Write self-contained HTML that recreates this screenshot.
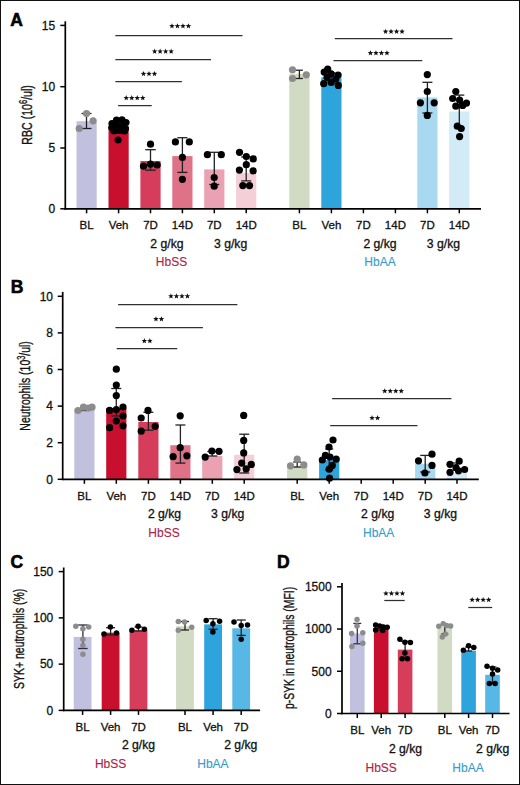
<!DOCTYPE html>
<html><head><meta charset="utf-8"><title>Figure</title>
<style>
html,body{margin:0;padding:0;background:#fff;}
body{width:520px;height:785px;overflow:hidden;font-family:"Liberation Sans", sans-serif;}
.fig{position:relative;width:520px;height:785px;background:#fff;}
svg{position:absolute;left:0;top:0;}
svg text{font-family:"Liberation Sans", sans-serif;}
</style></head>
<body><div class="fig"><svg width="520" height="785" viewBox="0 0 520 785">
<text x="10.3" y="25.6" font-size="17.5" font-weight="bold" fill="#000" stroke="#000" stroke-width="0.6">A</text>
<rect x="76.5" y="121.2" width="20.2" height="87.6" fill="#c1c0de"/>
<rect x="108.5" y="127.3" width="20.2" height="81.5" fill="#c8102e"/>
<rect x="140.4" y="161" width="20.2" height="47.8" fill="#d53d5b"/>
<rect x="172.3" y="156.1" width="20.2" height="52.7" fill="#df7287"/>
<rect x="204.2" y="169.4" width="20.2" height="39.4" fill="#eaa2b3"/>
<rect x="236.1" y="173" width="20.2" height="35.8" fill="#f4cfd7"/>
<rect x="289.3" y="74" width="20.2" height="134.8" fill="#d1dac2"/>
<rect x="321.3" y="77.3" width="20.2" height="131.5" fill="#2ea4dc"/>
<rect x="417.3" y="97.5" width="20.2" height="111.3" fill="#a9d8f1"/>
<rect x="449.2" y="111.5" width="20.2" height="97.3" fill="#d3eaf7"/>
<line x1="86.5" y1="113.5" x2="86.5" y2="128.5" stroke="#222" stroke-width="1.3"/>
<line x1="81.5" y1="113.5" x2="91.5" y2="113.5" stroke="#222" stroke-width="1.3"/>
<line x1="81.5" y1="128.5" x2="91.5" y2="128.5" stroke="#222" stroke-width="1.3"/>
<line x1="118.6" y1="121.5" x2="118.6" y2="133" stroke="#222" stroke-width="1.3"/>
<line x1="113.6" y1="121.5" x2="123.6" y2="121.5" stroke="#222" stroke-width="1.3"/>
<line x1="113.6" y1="133" x2="123.6" y2="133" stroke="#222" stroke-width="1.3"/>
<line x1="150.5" y1="149.7" x2="150.5" y2="170.2" stroke="#222" stroke-width="1.3"/>
<line x1="145.25" y1="149.7" x2="155.75" y2="149.7" stroke="#222" stroke-width="1.3"/>
<line x1="145.25" y1="170.2" x2="155.75" y2="170.2" stroke="#222" stroke-width="1.3"/>
<line x1="182.4" y1="137.7" x2="182.4" y2="172.4" stroke="#222" stroke-width="1.3"/>
<line x1="177.4" y1="137.7" x2="187.4" y2="137.7" stroke="#222" stroke-width="1.3"/>
<line x1="177.4" y1="172.4" x2="187.4" y2="172.4" stroke="#222" stroke-width="1.3"/>
<line x1="214.3" y1="152.3" x2="214.3" y2="184.5" stroke="#222" stroke-width="1.3"/>
<line x1="209.3" y1="152.3" x2="219.3" y2="152.3" stroke="#222" stroke-width="1.3"/>
<line x1="209.3" y1="184.5" x2="219.3" y2="184.5" stroke="#222" stroke-width="1.3"/>
<line x1="246.2" y1="157" x2="246.2" y2="180.9" stroke="#222" stroke-width="1.3"/>
<line x1="241.2" y1="157" x2="251.2" y2="157" stroke="#222" stroke-width="1.3"/>
<line x1="241.2" y1="180.9" x2="251.2" y2="180.9" stroke="#222" stroke-width="1.3"/>
<line x1="299.4" y1="70.2" x2="299.4" y2="78.5" stroke="#222" stroke-width="1.3"/>
<line x1="295.9" y1="70.2" x2="302.9" y2="70.2" stroke="#222" stroke-width="1.3"/>
<line x1="295.9" y1="78.5" x2="302.9" y2="78.5" stroke="#222" stroke-width="1.3"/>
<line x1="331.4" y1="73" x2="331.4" y2="82" stroke="#222" stroke-width="1.3"/>
<line x1="327.4" y1="73" x2="335.4" y2="73" stroke="#222" stroke-width="1.3"/>
<line x1="327.4" y1="82" x2="335.4" y2="82" stroke="#222" stroke-width="1.3"/>
<line x1="427.4" y1="82.3" x2="427.4" y2="113" stroke="#222" stroke-width="1.3"/>
<line x1="422.4" y1="82.3" x2="432.4" y2="82.3" stroke="#222" stroke-width="1.3"/>
<line x1="422.4" y1="113" x2="432.4" y2="113" stroke="#222" stroke-width="1.3"/>
<line x1="459.3" y1="95.1" x2="459.3" y2="128" stroke="#222" stroke-width="1.3"/>
<line x1="454.3" y1="95.1" x2="464.3" y2="95.1" stroke="#222" stroke-width="1.3"/>
<line x1="454.3" y1="128" x2="464.3" y2="128" stroke="#222" stroke-width="1.3"/>
<circle cx="86.5" cy="113.5" r="3.6" fill="#8c8c8c"/>
<circle cx="93.1" cy="120.8" r="3.6" fill="#8c8c8c"/>
<circle cx="79.2" cy="128.5" r="3.6" fill="#8c8c8c"/>
<circle cx="112" cy="123.5" r="3.6" fill="#000"/>
<circle cx="116.5" cy="120.2" r="3.6" fill="#000"/>
<circle cx="122" cy="119.8" r="3.6" fill="#000"/>
<circle cx="126" cy="122.5" r="3.6" fill="#000"/>
<circle cx="111.8" cy="127.5" r="3.6" fill="#000"/>
<circle cx="117" cy="125" r="3.6" fill="#000"/>
<circle cx="122.5" cy="126" r="3.6" fill="#000"/>
<circle cx="125.5" cy="128.5" r="3.6" fill="#000"/>
<circle cx="114" cy="131" r="3.6" fill="#000"/>
<circle cx="119.5" cy="130.5" r="3.6" fill="#000"/>
<circle cx="124.5" cy="131" r="3.6" fill="#000"/>
<circle cx="118.1" cy="140" r="3.6" fill="#000"/>
<circle cx="150.5" cy="144.2" r="3.6" fill="#000"/>
<circle cx="143.5" cy="166.2" r="3.6" fill="#000"/>
<circle cx="150.5" cy="164.1" r="3.6" fill="#000"/>
<circle cx="157.2" cy="165" r="3.6" fill="#000"/>
<circle cx="175.4" cy="141.9" r="3.6" fill="#000"/>
<circle cx="189.3" cy="141.9" r="3.6" fill="#000"/>
<circle cx="182.4" cy="157.4" r="3.6" fill="#000"/>
<circle cx="182.4" cy="179.3" r="3.6" fill="#000"/>
<circle cx="207.4" cy="154.7" r="3.6" fill="#000"/>
<circle cx="221.3" cy="154.7" r="3.6" fill="#000"/>
<circle cx="214.2" cy="177.5" r="3.6" fill="#000"/>
<circle cx="214.2" cy="186.2" r="3.6" fill="#000"/>
<circle cx="239.5" cy="152.3" r="3.6" fill="#000"/>
<circle cx="246.3" cy="156.5" r="3.6" fill="#000"/>
<circle cx="253.2" cy="158.9" r="3.6" fill="#000"/>
<circle cx="246.3" cy="164.7" r="3.6" fill="#000"/>
<circle cx="239.4" cy="170.1" r="3.6" fill="#000"/>
<circle cx="253.1" cy="170.8" r="3.6" fill="#000"/>
<circle cx="242.8" cy="185.6" r="3.6" fill="#000"/>
<circle cx="249.5" cy="185.6" r="3.6" fill="#000"/>
<circle cx="292.5" cy="69.8" r="3.6" fill="#8c8c8c"/>
<circle cx="292.5" cy="78.5" r="3.6" fill="#8c8c8c"/>
<circle cx="306.3" cy="74.8" r="3.6" fill="#8c8c8c"/>
<circle cx="327.7" cy="69.2" r="3.6" fill="#000"/>
<circle cx="324.2" cy="72.1" r="3.6" fill="#000"/>
<circle cx="331.2" cy="73.8" r="3.6" fill="#000"/>
<circle cx="338.1" cy="75" r="3.6" fill="#000"/>
<circle cx="327.1" cy="77.3" r="3.6" fill="#000"/>
<circle cx="335.8" cy="79" r="3.6" fill="#000"/>
<circle cx="323.7" cy="83.7" r="3.6" fill="#000"/>
<circle cx="331.2" cy="82.5" r="3.6" fill="#000"/>
<circle cx="338.3" cy="85.4" r="3.6" fill="#000"/>
<circle cx="427.3" cy="74.6" r="3.6" fill="#000"/>
<circle cx="427.3" cy="91.5" r="3.6" fill="#000"/>
<circle cx="420.4" cy="102.8" r="3.6" fill="#000"/>
<circle cx="434.2" cy="102.8" r="3.6" fill="#000"/>
<circle cx="427.3" cy="115.4" r="3.6" fill="#000"/>
<circle cx="455.8" cy="91.5" r="3.6" fill="#000"/>
<circle cx="452.7" cy="98.5" r="3.6" fill="#000"/>
<circle cx="459.6" cy="100" r="3.6" fill="#000"/>
<circle cx="466.5" cy="103.1" r="3.6" fill="#000"/>
<circle cx="455.8" cy="106.2" r="3.6" fill="#000"/>
<circle cx="462.7" cy="105.4" r="3.6" fill="#000"/>
<circle cx="457.3" cy="126.2" r="3.6" fill="#000"/>
<circle cx="461.2" cy="128.5" r="3.6" fill="#000"/>
<circle cx="459.6" cy="136.6" r="3.6" fill="#000"/>
<line x1="65.3" y1="21.3" x2="65.3" y2="209.6" stroke="#000" stroke-width="1.7"/>
<line x1="60.3" y1="208.8" x2="65.3" y2="208.8" stroke="#000" stroke-width="1.5"/>
<text x="55.2" y="213.1" font-size="12" text-anchor="end" fill="#111" stroke="#111" stroke-width="0.3" font-weight="normal" >0</text>
<line x1="60.3" y1="148" x2="65.3" y2="148" stroke="#000" stroke-width="1.5"/>
<text x="55.2" y="152.3" font-size="12" text-anchor="end" fill="#111" stroke="#111" stroke-width="0.3" font-weight="normal" >5</text>
<line x1="60.3" y1="86.7" x2="65.3" y2="86.7" stroke="#000" stroke-width="1.5"/>
<text x="55.2" y="91" font-size="12" text-anchor="end" fill="#111" stroke="#111" stroke-width="0.3" font-weight="normal" >10</text>
<line x1="60.3" y1="25.4" x2="65.3" y2="25.4" stroke="#000" stroke-width="1.5"/>
<text x="55.2" y="29.7" font-size="12" text-anchor="end" fill="#111" stroke="#111" stroke-width="0.3" font-weight="normal" >15</text>
<line x1="64.45" y1="208.8" x2="481" y2="208.8" stroke="#000" stroke-width="1.7"/>
<line x1="86.6" y1="208.8" x2="86.6" y2="213.3" stroke="#000" stroke-width="1.5"/>
<line x1="118.6" y1="208.8" x2="118.6" y2="213.3" stroke="#000" stroke-width="1.5"/>
<line x1="150.5" y1="208.8" x2="150.5" y2="213.3" stroke="#000" stroke-width="1.5"/>
<line x1="182.4" y1="208.8" x2="182.4" y2="213.3" stroke="#000" stroke-width="1.5"/>
<line x1="214.3" y1="208.8" x2="214.3" y2="213.3" stroke="#000" stroke-width="1.5"/>
<line x1="246.2" y1="208.8" x2="246.2" y2="213.3" stroke="#000" stroke-width="1.5"/>
<line x1="299.4" y1="208.8" x2="299.4" y2="213.3" stroke="#000" stroke-width="1.5"/>
<line x1="331.4" y1="208.8" x2="331.4" y2="213.3" stroke="#000" stroke-width="1.5"/>
<line x1="363.4" y1="208.8" x2="363.4" y2="213.3" stroke="#000" stroke-width="1.5"/>
<line x1="395.4" y1="208.8" x2="395.4" y2="213.3" stroke="#000" stroke-width="1.5"/>
<line x1="427.4" y1="208.8" x2="427.4" y2="213.3" stroke="#000" stroke-width="1.5"/>
<line x1="459.3" y1="208.8" x2="459.3" y2="213.3" stroke="#000" stroke-width="1.5"/>
<text transform="translate(32.4,114.9) rotate(-90)" x="0" y="0" font-size="14" text-anchor="middle" fill="#111" stroke="#111" stroke-width="0.35" textLength="59.5" lengthAdjust="spacingAndGlyphs">RBC (10<tspan font-size="10" dy="-5">6</tspan><tspan dy="5">/ul)</tspan></text>
<line x1="115.4" y1="35.5" x2="242.5" y2="35.5" stroke="#303030" stroke-width="1.25"/>
<polygon points="171.95,23.2 172.68,25.09 174.71,25.2 173.14,26.49 173.65,28.45 171.95,27.35 170.25,28.45 170.76,26.49 169.19,25.2 171.22,25.09" fill="#111"/>
<polygon points="177.45,23.2 178.18,25.09 180.21,25.2 178.64,26.49 179.15,28.45 177.45,27.35 175.75,28.45 176.26,26.49 174.69,25.2 176.72,25.09" fill="#111"/>
<polygon points="182.95,23.2 183.68,25.09 185.71,25.2 184.14,26.49 184.65,28.45 182.95,27.35 181.25,28.45 181.76,26.49 180.19,25.2 182.22,25.09" fill="#111"/>
<polygon points="188.45,23.2 189.18,25.09 191.21,25.2 189.64,26.49 190.15,28.45 188.45,27.35 186.75,28.45 187.26,26.49 185.69,25.2 187.72,25.09" fill="#111"/>
<line x1="115.4" y1="59.5" x2="211" y2="59.5" stroke="#303030" stroke-width="1.25"/>
<polygon points="154.65,48.5 155.38,50.39 157.41,50.5 155.84,51.79 156.35,53.75 154.65,52.65 152.95,53.75 153.46,51.79 151.89,50.5 153.92,50.39" fill="#111"/>
<polygon points="160.15,48.5 160.88,50.39 162.91,50.5 161.34,51.79 161.85,53.75 160.15,52.65 158.45,53.75 158.96,51.79 157.39,50.5 159.42,50.39" fill="#111"/>
<polygon points="165.65,48.5 166.38,50.39 168.41,50.5 166.84,51.79 167.35,53.75 165.65,52.65 163.95,53.75 164.46,51.79 162.89,50.5 164.92,50.39" fill="#111"/>
<polygon points="171.15,48.5 171.88,50.39 173.91,50.5 172.34,51.79 172.85,53.75 171.15,52.65 169.45,53.75 169.96,51.79 168.39,50.5 170.42,50.39" fill="#111"/>
<line x1="115.4" y1="81.5" x2="181.9" y2="81.5" stroke="#303030" stroke-width="1.25"/>
<polygon points="143.5,70.9 144.23,72.79 146.26,72.9 144.69,74.19 145.2,76.15 143.5,75.05 141.8,76.15 142.31,74.19 140.74,72.9 142.77,72.79" fill="#111"/>
<polygon points="149,70.9 149.73,72.79 151.76,72.9 150.19,74.19 150.7,76.15 149,75.05 147.3,76.15 147.81,74.19 146.24,72.9 148.27,72.79" fill="#111"/>
<polygon points="154.5,70.9 155.23,72.79 157.26,72.9 155.69,74.19 156.2,76.15 154.5,75.05 152.8,76.15 153.31,74.19 151.74,72.9 153.77,72.79" fill="#111"/>
<line x1="118.1" y1="105.5" x2="151.7" y2="105.5" stroke="#303030" stroke-width="1.25"/>
<polygon points="126.25,95.1 126.98,96.99 129.01,97.1 127.44,98.39 127.95,100.35 126.25,99.25 124.55,100.35 125.06,98.39 123.49,97.1 125.52,96.99" fill="#111"/>
<polygon points="131.75,95.1 132.48,96.99 134.51,97.1 132.94,98.39 133.45,100.35 131.75,99.25 130.05,100.35 130.56,98.39 128.99,97.1 131.02,96.99" fill="#111"/>
<polygon points="137.25,95.1 137.98,96.99 140.01,97.1 138.44,98.39 138.95,100.35 137.25,99.25 135.55,100.35 136.06,98.39 134.49,97.1 136.52,96.99" fill="#111"/>
<polygon points="142.75,95.1 143.48,96.99 145.51,97.1 143.94,98.39 144.45,100.35 142.75,99.25 141.05,100.35 141.56,98.39 139.99,97.1 142.02,96.99" fill="#111"/>
<line x1="334.8" y1="38.5" x2="452.5" y2="38.5" stroke="#303030" stroke-width="1.25"/>
<polygon points="385.55,28.7 386.28,30.59 388.31,30.7 386.74,31.99 387.25,33.95 385.55,32.85 383.85,33.95 384.36,31.99 382.79,30.7 384.82,30.59" fill="#111"/>
<polygon points="391.05,28.7 391.78,30.59 393.81,30.7 392.24,31.99 392.75,33.95 391.05,32.85 389.35,33.95 389.86,31.99 388.29,30.7 390.32,30.59" fill="#111"/>
<polygon points="396.55,28.7 397.28,30.59 399.31,30.7 397.74,31.99 398.25,33.95 396.55,32.85 394.85,33.95 395.36,31.99 393.79,30.7 395.82,30.59" fill="#111"/>
<polygon points="402.05,28.7 402.78,30.59 404.81,30.7 403.24,31.99 403.75,33.95 402.05,32.85 400.35,33.95 400.86,31.99 399.29,30.7 401.32,30.59" fill="#111"/>
<line x1="333.5" y1="60.5" x2="422.3" y2="60.5" stroke="#303030" stroke-width="1.25"/>
<polygon points="370.45,50.2 371.18,52.09 373.21,52.2 371.64,53.49 372.15,55.45 370.45,54.35 368.75,55.45 369.26,53.49 367.69,52.2 369.72,52.09" fill="#111"/>
<polygon points="375.95,50.2 376.68,52.09 378.71,52.2 377.14,53.49 377.65,55.45 375.95,54.35 374.25,55.45 374.76,53.49 373.19,52.2 375.22,52.09" fill="#111"/>
<polygon points="381.45,50.2 382.18,52.09 384.21,52.2 382.64,53.49 383.15,55.45 381.45,54.35 379.75,55.45 380.26,53.49 378.69,52.2 380.72,52.09" fill="#111"/>
<polygon points="386.95,50.2 387.68,52.09 389.71,52.2 388.14,53.49 388.65,55.45 386.95,54.35 385.25,55.45 385.76,53.49 384.19,52.2 386.22,52.09" fill="#111"/>
<text x="86.6" y="228.7" font-size="11.5" text-anchor="middle" fill="#111" stroke="#111" stroke-width="0.3" font-weight="normal" >BL</text>
<text x="118.6" y="228.7" font-size="11.5" text-anchor="middle" fill="#111" stroke="#111" stroke-width="0.3" font-weight="normal" >Veh</text>
<text x="150.5" y="228.7" font-size="11.5" text-anchor="middle" fill="#111" stroke="#111" stroke-width="0.3" font-weight="normal" >7D</text>
<text x="182.4" y="228.7" font-size="11.5" text-anchor="middle" fill="#111" stroke="#111" stroke-width="0.3" font-weight="normal" >14D</text>
<text x="214.3" y="228.7" font-size="11.5" text-anchor="middle" fill="#111" stroke="#111" stroke-width="0.3" font-weight="normal" >7D</text>
<text x="246.2" y="228.7" font-size="11.5" text-anchor="middle" fill="#111" stroke="#111" stroke-width="0.3" font-weight="normal" >14D</text>
<text x="299.4" y="228.7" font-size="11.5" text-anchor="middle" fill="#111" stroke="#111" stroke-width="0.3" font-weight="normal" >BL</text>
<text x="331.4" y="228.7" font-size="11.5" text-anchor="middle" fill="#111" stroke="#111" stroke-width="0.3" font-weight="normal" >Veh</text>
<text x="363.4" y="228.7" font-size="11.5" text-anchor="middle" fill="#111" stroke="#111" stroke-width="0.3" font-weight="normal" >7D</text>
<text x="395.4" y="228.7" font-size="11.5" text-anchor="middle" fill="#111" stroke="#111" stroke-width="0.3" font-weight="normal" >14D</text>
<text x="427.4" y="228.7" font-size="11.5" text-anchor="middle" fill="#111" stroke="#111" stroke-width="0.3" font-weight="normal" >7D</text>
<text x="459.3" y="228.7" font-size="11.5" text-anchor="middle" fill="#111" stroke="#111" stroke-width="0.3" font-weight="normal" >14D</text>
<text x="166.9" y="247.5" font-size="12.2" text-anchor="middle" fill="#111" stroke="#111" stroke-width="0.3" font-weight="normal" >2 g/kg</text>
<text x="230.6" y="247.5" font-size="12.2" text-anchor="middle" fill="#111" stroke="#111" stroke-width="0.3" font-weight="normal" >3 g/kg</text>
<text x="171.5" y="266.2" font-size="12" text-anchor="middle" fill="#ab2446" stroke="#ab2446" stroke-width="0.12" font-weight="normal" >HbSS</text>
<text x="380" y="247.5" font-size="12.2" text-anchor="middle" fill="#111" stroke="#111" stroke-width="0.3" font-weight="normal" >2 g/kg</text>
<text x="443.4" y="247.5" font-size="12.2" text-anchor="middle" fill="#111" stroke="#111" stroke-width="0.3" font-weight="normal" >3 g/kg</text>
<text x="380" y="266.2" font-size="12" text-anchor="middle" fill="#359dcc" stroke="#359dcc" stroke-width="0.12" font-weight="normal" >HbAA</text>
<text x="10.8" y="292.7" font-size="17.5" font-weight="bold" fill="#000" stroke="#000" stroke-width="0.6">B</text>
<rect x="74.3" y="409" width="20.2" height="70.3" fill="#c1c0de"/>
<rect x="106.2" y="408" width="20.2" height="71.3" fill="#c8102e"/>
<rect x="138.3" y="422" width="20.2" height="57.3" fill="#d53d5b"/>
<rect x="170.3" y="445.2" width="20.2" height="34.1" fill="#df7287"/>
<rect x="202.2" y="455.8" width="20.2" height="23.5" fill="#eaa2b3"/>
<rect x="234.1" y="454.8" width="20.2" height="24.5" fill="#f4cfd7"/>
<rect x="287.1" y="466.2" width="20.2" height="13.1" fill="#d1dac2"/>
<rect x="319.1" y="460" width="20.2" height="19.3" fill="#2ea4dc"/>
<rect x="415.1" y="463.8" width="20.2" height="15.5" fill="#a9d8f1"/>
<rect x="446.9" y="473" width="20.2" height="6.3" fill="#d3eaf7"/>
<line x1="84.4" y1="406.5" x2="84.4" y2="410.5" stroke="#222" stroke-width="1.3"/>
<line x1="80.4" y1="406.5" x2="88.4" y2="406.5" stroke="#222" stroke-width="1.3"/>
<line x1="80.4" y1="410.5" x2="88.4" y2="410.5" stroke="#222" stroke-width="1.3"/>
<line x1="116.3" y1="388.5" x2="116.3" y2="416" stroke="#222" stroke-width="1.3"/>
<line x1="111.3" y1="388.5" x2="121.3" y2="388.5" stroke="#222" stroke-width="1.3"/>
<line x1="111.3" y1="416" x2="121.3" y2="416" stroke="#222" stroke-width="1.3"/>
<line x1="148.4" y1="412.3" x2="148.4" y2="430.2" stroke="#222" stroke-width="1.3"/>
<line x1="143.4" y1="412.3" x2="153.4" y2="412.3" stroke="#222" stroke-width="1.3"/>
<line x1="143.4" y1="430.2" x2="153.4" y2="430.2" stroke="#222" stroke-width="1.3"/>
<line x1="180.4" y1="425" x2="180.4" y2="463.1" stroke="#222" stroke-width="1.3"/>
<line x1="175.4" y1="425" x2="185.4" y2="425" stroke="#222" stroke-width="1.3"/>
<line x1="175.4" y1="463.1" x2="185.4" y2="463.1" stroke="#222" stroke-width="1.3"/>
<line x1="212.3" y1="451.5" x2="212.3" y2="456" stroke="#222" stroke-width="1.3"/>
<line x1="207.3" y1="451.5" x2="217.3" y2="451.5" stroke="#222" stroke-width="1.3"/>
<line x1="207.3" y1="456" x2="217.3" y2="456" stroke="#222" stroke-width="1.3"/>
<line x1="244.2" y1="434.2" x2="244.2" y2="473" stroke="#222" stroke-width="1.3"/>
<line x1="239.2" y1="434.2" x2="249.2" y2="434.2" stroke="#222" stroke-width="1.3"/>
<line x1="239.2" y1="473" x2="249.2" y2="473" stroke="#222" stroke-width="1.3"/>
<line x1="297.2" y1="462" x2="297.2" y2="467" stroke="#222" stroke-width="1.3"/>
<line x1="293.2" y1="462" x2="301.2" y2="462" stroke="#222" stroke-width="1.3"/>
<line x1="293.2" y1="467" x2="301.2" y2="467" stroke="#222" stroke-width="1.3"/>
<line x1="329.2" y1="449" x2="329.2" y2="470" stroke="#222" stroke-width="1.3"/>
<line x1="325.2" y1="449" x2="333.2" y2="449" stroke="#222" stroke-width="1.3"/>
<line x1="325.2" y1="470" x2="333.2" y2="470" stroke="#222" stroke-width="1.3"/>
<line x1="425.2" y1="455.4" x2="425.2" y2="472" stroke="#222" stroke-width="1.3"/>
<line x1="420.2" y1="455.4" x2="430.2" y2="455.4" stroke="#222" stroke-width="1.3"/>
<line x1="420.2" y1="472" x2="430.2" y2="472" stroke="#222" stroke-width="1.3"/>
<line x1="457" y1="463" x2="457" y2="470" stroke="#222" stroke-width="1.3"/>
<line x1="453" y1="463" x2="461" y2="463" stroke="#222" stroke-width="1.3"/>
<line x1="453" y1="470" x2="461" y2="470" stroke="#222" stroke-width="1.3"/>
<circle cx="78" cy="410.5" r="3.6" fill="#8c8c8c"/>
<circle cx="83.5" cy="407.2" r="3.6" fill="#8c8c8c"/>
<circle cx="88.5" cy="408" r="3.6" fill="#8c8c8c"/>
<circle cx="92" cy="407.2" r="3.6" fill="#8c8c8c"/>
<circle cx="116.3" cy="369.2" r="3.6" fill="#000"/>
<circle cx="116.3" cy="385" r="3.6" fill="#000"/>
<circle cx="116.3" cy="395.6" r="3.6" fill="#000"/>
<circle cx="109.6" cy="410.4" r="3.6" fill="#000"/>
<circle cx="116.3" cy="409.6" r="3.6" fill="#000"/>
<circle cx="123" cy="407" r="3.6" fill="#000"/>
<circle cx="123" cy="416" r="3.6" fill="#000"/>
<circle cx="116.3" cy="421" r="3.6" fill="#000"/>
<circle cx="109.6" cy="427.7" r="3.6" fill="#000"/>
<circle cx="123" cy="425.8" r="3.6" fill="#000"/>
<circle cx="148" cy="410.4" r="3.6" fill="#000"/>
<circle cx="141.2" cy="418" r="3.6" fill="#000"/>
<circle cx="155.2" cy="426.3" r="3.6" fill="#000"/>
<circle cx="141.2" cy="431.2" r="3.6" fill="#000"/>
<circle cx="180.2" cy="415.8" r="3.6" fill="#000"/>
<circle cx="180.2" cy="447.7" r="3.6" fill="#000"/>
<circle cx="173.1" cy="456.7" r="3.6" fill="#000"/>
<circle cx="186.9" cy="455.8" r="3.6" fill="#000"/>
<circle cx="205.2" cy="457.1" r="3.6" fill="#000"/>
<circle cx="211.9" cy="451" r="3.6" fill="#000"/>
<circle cx="219" cy="451.3" r="3.6" fill="#000"/>
<circle cx="243.7" cy="415.4" r="3.6" fill="#000"/>
<circle cx="243.7" cy="440.4" r="3.6" fill="#000"/>
<circle cx="243.7" cy="452.9" r="3.6" fill="#000"/>
<circle cx="241.7" cy="463.1" r="3.6" fill="#000"/>
<circle cx="251.3" cy="464.4" r="3.6" fill="#000"/>
<circle cx="236.9" cy="469.6" r="3.6" fill="#000"/>
<circle cx="246.2" cy="468.8" r="3.6" fill="#000"/>
<circle cx="290.5" cy="465.8" r="3.6" fill="#8c8c8c"/>
<circle cx="297.2" cy="459.2" r="3.6" fill="#8c8c8c"/>
<circle cx="303.8" cy="464.9" r="3.6" fill="#8c8c8c"/>
<circle cx="333" cy="440" r="3.6" fill="#000"/>
<circle cx="329" cy="447" r="3.6" fill="#000"/>
<circle cx="325.4" cy="455.4" r="3.6" fill="#000"/>
<circle cx="322.3" cy="460" r="3.6" fill="#000"/>
<circle cx="330" cy="457" r="3.6" fill="#000"/>
<circle cx="336.2" cy="459.2" r="3.6" fill="#000"/>
<circle cx="332.3" cy="465.4" r="3.6" fill="#000"/>
<circle cx="329.2" cy="469.2" r="3.6" fill="#000"/>
<circle cx="329.5" cy="478.2" r="3.6" fill="#000"/>
<circle cx="418.5" cy="460.8" r="3.6" fill="#000"/>
<circle cx="432" cy="454.2" r="3.6" fill="#000"/>
<circle cx="432" cy="465.4" r="3.6" fill="#000"/>
<circle cx="424.9" cy="473" r="3.6" fill="#000"/>
<circle cx="450" cy="464.3" r="3.6" fill="#000"/>
<circle cx="459.2" cy="461.2" r="3.6" fill="#000"/>
<circle cx="464.6" cy="469.5" r="3.6" fill="#000"/>
<circle cx="450" cy="472.3" r="3.6" fill="#000"/>
<circle cx="458.5" cy="470.8" r="3.6" fill="#000"/>
<circle cx="456" cy="467.7" r="3.6" fill="#000"/>
<line x1="62.7" y1="291.9" x2="62.7" y2="480.1" stroke="#000" stroke-width="1.7"/>
<line x1="57.7" y1="479.3" x2="62.7" y2="479.3" stroke="#000" stroke-width="1.5"/>
<text x="53" y="483.6" font-size="12" text-anchor="end" fill="#111" stroke="#111" stroke-width="0.3" font-weight="normal" >0</text>
<line x1="57.7" y1="442.7" x2="62.7" y2="442.7" stroke="#000" stroke-width="1.5"/>
<text x="53" y="447" font-size="12" text-anchor="end" fill="#111" stroke="#111" stroke-width="0.3" font-weight="normal" >2</text>
<line x1="57.7" y1="406.1" x2="62.7" y2="406.1" stroke="#000" stroke-width="1.5"/>
<text x="53" y="410.4" font-size="12" text-anchor="end" fill="#111" stroke="#111" stroke-width="0.3" font-weight="normal" >4</text>
<line x1="57.7" y1="369.5" x2="62.7" y2="369.5" stroke="#000" stroke-width="1.5"/>
<text x="53" y="373.8" font-size="12" text-anchor="end" fill="#111" stroke="#111" stroke-width="0.3" font-weight="normal" >6</text>
<line x1="57.7" y1="332.9" x2="62.7" y2="332.9" stroke="#000" stroke-width="1.5"/>
<text x="53" y="337.2" font-size="12" text-anchor="end" fill="#111" stroke="#111" stroke-width="0.3" font-weight="normal" >8</text>
<line x1="57.7" y1="296.3" x2="62.7" y2="296.3" stroke="#000" stroke-width="1.5"/>
<text x="53" y="300.6" font-size="12" text-anchor="end" fill="#111" stroke="#111" stroke-width="0.3" font-weight="normal" >10</text>
<line x1="61.85" y1="479.3" x2="478.8" y2="479.3" stroke="#000" stroke-width="1.7"/>
<line x1="84.4" y1="479.3" x2="84.4" y2="483.8" stroke="#000" stroke-width="1.5"/>
<line x1="116.3" y1="479.3" x2="116.3" y2="483.8" stroke="#000" stroke-width="1.5"/>
<line x1="148.4" y1="479.3" x2="148.4" y2="483.8" stroke="#000" stroke-width="1.5"/>
<line x1="180.4" y1="479.3" x2="180.4" y2="483.8" stroke="#000" stroke-width="1.5"/>
<line x1="212.3" y1="479.3" x2="212.3" y2="483.8" stroke="#000" stroke-width="1.5"/>
<line x1="244.2" y1="479.3" x2="244.2" y2="483.8" stroke="#000" stroke-width="1.5"/>
<line x1="297.2" y1="479.3" x2="297.2" y2="483.8" stroke="#000" stroke-width="1.5"/>
<line x1="329.2" y1="479.3" x2="329.2" y2="483.8" stroke="#000" stroke-width="1.5"/>
<line x1="361.2" y1="479.3" x2="361.2" y2="483.8" stroke="#000" stroke-width="1.5"/>
<line x1="393.2" y1="479.3" x2="393.2" y2="483.8" stroke="#000" stroke-width="1.5"/>
<line x1="425.2" y1="479.3" x2="425.2" y2="483.8" stroke="#000" stroke-width="1.5"/>
<line x1="457" y1="479.3" x2="457" y2="483.8" stroke="#000" stroke-width="1.5"/>
<text transform="translate(30.3,385.9) rotate(-90)" x="0" y="0" font-size="14" text-anchor="middle" fill="#111" stroke="#111" stroke-width="0.35" textLength="89.5" lengthAdjust="spacingAndGlyphs">Neutrophils (10<tspan font-size="10" dy="-5">3</tspan><tspan dy="5">/ul)</tspan></text>
<line x1="118.1" y1="304.5" x2="237.4" y2="304.5" stroke="#303030" stroke-width="1.25"/>
<polygon points="170.95,293.3 171.68,295.19 173.71,295.3 172.14,296.59 172.65,298.55 170.95,297.45 169.25,298.55 169.76,296.59 168.19,295.3 170.22,295.19" fill="#111"/>
<polygon points="176.45,293.3 177.18,295.19 179.21,295.3 177.64,296.59 178.15,298.55 176.45,297.45 174.75,298.55 175.26,296.59 173.69,295.3 175.72,295.19" fill="#111"/>
<polygon points="181.95,293.3 182.68,295.19 184.71,295.3 183.14,296.59 183.65,298.55 181.95,297.45 180.25,298.55 180.76,296.59 179.19,295.3 181.22,295.19" fill="#111"/>
<polygon points="187.45,293.3 188.18,295.19 190.21,295.3 188.64,296.59 189.15,298.55 187.45,297.45 185.75,298.55 186.26,296.59 184.69,295.3 186.72,295.19" fill="#111"/>
<line x1="115.4" y1="327.5" x2="202.9" y2="327.5" stroke="#303030" stroke-width="1.25"/>
<polygon points="155.95,316.2 156.68,318.09 158.71,318.2 157.14,319.49 157.65,321.45 155.95,320.35 154.25,321.45 154.76,319.49 153.19,318.2 155.22,318.09" fill="#111"/>
<polygon points="161.45,316.2 162.18,318.09 164.21,318.2 162.64,319.49 163.15,321.45 161.45,320.35 159.75,321.45 160.26,319.49 158.69,318.2 160.72,318.09" fill="#111"/>
<line x1="116.7" y1="348.5" x2="177.3" y2="348.5" stroke="#303030" stroke-width="1.25"/>
<polygon points="144.35,338 145.08,339.89 147.11,340 145.54,341.29 146.05,343.25 144.35,342.15 142.65,343.25 143.16,341.29 141.59,340 143.62,339.89" fill="#111"/>
<polygon points="149.85,338 150.58,339.89 152.61,340 151.04,341.29 151.55,343.25 149.85,342.15 148.15,343.25 148.66,341.29 147.09,340 149.12,339.89" fill="#111"/>
<line x1="332.1" y1="398.5" x2="451.4" y2="398.5" stroke="#303030" stroke-width="1.25"/>
<polygon points="384.75,388.2 385.48,390.09 387.51,390.2 385.94,391.49 386.45,393.45 384.75,392.35 383.05,393.45 383.56,391.49 381.99,390.2 384.02,390.09" fill="#111"/>
<polygon points="390.25,388.2 390.98,390.09 393.01,390.2 391.44,391.49 391.95,393.45 390.25,392.35 388.55,393.45 389.06,391.49 387.49,390.2 389.52,390.09" fill="#111"/>
<polygon points="395.75,388.2 396.48,390.09 398.51,390.2 396.94,391.49 397.45,393.45 395.75,392.35 394.05,393.45 394.56,391.49 392.99,390.2 395.02,390.09" fill="#111"/>
<polygon points="401.25,388.2 401.98,390.09 404.01,390.2 402.44,391.49 402.95,393.45 401.25,392.35 399.55,393.45 400.06,391.49 398.49,390.2 400.52,390.09" fill="#111"/>
<line x1="330.2" y1="425.5" x2="417.5" y2="425.5" stroke="#303030" stroke-width="1.25"/>
<polygon points="372.05,415.1 372.78,416.99 374.81,417.1 373.24,418.39 373.75,420.35 372.05,419.25 370.35,420.35 370.86,418.39 369.29,417.1 371.32,416.99" fill="#111"/>
<polygon points="377.55,415.1 378.28,416.99 380.31,417.1 378.74,418.39 379.25,420.35 377.55,419.25 375.85,420.35 376.36,418.39 374.79,417.1 376.82,416.99" fill="#111"/>
<text x="84.4" y="499.5" font-size="11.5" text-anchor="middle" fill="#111" stroke="#111" stroke-width="0.3" font-weight="normal" >BL</text>
<text x="116.3" y="499.5" font-size="11.5" text-anchor="middle" fill="#111" stroke="#111" stroke-width="0.3" font-weight="normal" >Veh</text>
<text x="148.4" y="499.5" font-size="11.5" text-anchor="middle" fill="#111" stroke="#111" stroke-width="0.3" font-weight="normal" >7D</text>
<text x="180.4" y="499.5" font-size="11.5" text-anchor="middle" fill="#111" stroke="#111" stroke-width="0.3" font-weight="normal" >14D</text>
<text x="212.3" y="499.5" font-size="11.5" text-anchor="middle" fill="#111" stroke="#111" stroke-width="0.3" font-weight="normal" >7D</text>
<text x="244.2" y="499.5" font-size="11.5" text-anchor="middle" fill="#111" stroke="#111" stroke-width="0.3" font-weight="normal" >14D</text>
<text x="297.2" y="499.5" font-size="11.5" text-anchor="middle" fill="#111" stroke="#111" stroke-width="0.3" font-weight="normal" >BL</text>
<text x="329.2" y="499.5" font-size="11.5" text-anchor="middle" fill="#111" stroke="#111" stroke-width="0.3" font-weight="normal" >Veh</text>
<text x="361.2" y="499.5" font-size="11.5" text-anchor="middle" fill="#111" stroke="#111" stroke-width="0.3" font-weight="normal" >7D</text>
<text x="393.2" y="499.5" font-size="11.5" text-anchor="middle" fill="#111" stroke="#111" stroke-width="0.3" font-weight="normal" >14D</text>
<text x="425.2" y="499.5" font-size="11.5" text-anchor="middle" fill="#111" stroke="#111" stroke-width="0.3" font-weight="normal" >7D</text>
<text x="457" y="499.5" font-size="11.5" text-anchor="middle" fill="#111" stroke="#111" stroke-width="0.3" font-weight="normal" >14D</text>
<text x="164.5" y="518.4" font-size="12.2" text-anchor="middle" fill="#111" stroke="#111" stroke-width="0.3" font-weight="normal" >2 g/kg</text>
<text x="227.7" y="518.4" font-size="12.2" text-anchor="middle" fill="#111" stroke="#111" stroke-width="0.3" font-weight="normal" >3 g/kg</text>
<text x="164" y="536.6" font-size="12" text-anchor="middle" fill="#ab2446" stroke="#ab2446" stroke-width="0.12" font-weight="normal" >HbSS</text>
<text x="377.7" y="518.4" font-size="12.2" text-anchor="middle" fill="#111" stroke="#111" stroke-width="0.3" font-weight="normal" >2 g/kg</text>
<text x="440.4" y="518.4" font-size="12.2" text-anchor="middle" fill="#111" stroke="#111" stroke-width="0.3" font-weight="normal" >3 g/kg</text>
<text x="378.7" y="536.6" font-size="12" text-anchor="middle" fill="#359dcc" stroke="#359dcc" stroke-width="0.12" font-weight="normal" >HbAA</text>
<text x="10.5" y="568" font-size="17.5" font-weight="bold" fill="#000" stroke="#000" stroke-width="0.6">C</text>
<rect x="73.7" y="636.9" width="17.8" height="73.5" fill="#c1c0de"/>
<rect x="101.7" y="632.7" width="17.8" height="77.7" fill="#c8102e"/>
<rect x="129.6" y="630.2" width="17.8" height="80.2" fill="#d53d5b"/>
<rect x="176.1" y="626.3" width="17.8" height="84.1" fill="#d1dac2"/>
<rect x="204.2" y="624.4" width="17.8" height="86" fill="#2ea4dc"/>
<rect x="232.3" y="628.3" width="17.8" height="82.1" fill="#57b8e6"/>
<line x1="82.9" y1="625" x2="82.9" y2="648.5" stroke="#2a2a48" stroke-width="1.3"/>
<line x1="78.15" y1="625" x2="87.65" y2="625" stroke="#2a2a48" stroke-width="1.3"/>
<line x1="78.15" y1="648.5" x2="87.65" y2="648.5" stroke="#2a2a48" stroke-width="1.3"/>
<line x1="110.6" y1="627.7" x2="110.6" y2="635" stroke="#222" stroke-width="1.3"/>
<line x1="106.1" y1="627.7" x2="115.1" y2="627.7" stroke="#222" stroke-width="1.3"/>
<line x1="106.1" y1="635" x2="115.1" y2="635" stroke="#222" stroke-width="1.3"/>
<line x1="138.5" y1="627" x2="138.5" y2="631" stroke="#222" stroke-width="1.3"/>
<line x1="134.5" y1="627" x2="142.5" y2="627" stroke="#222" stroke-width="1.3"/>
<line x1="134.5" y1="631" x2="142.5" y2="631" stroke="#222" stroke-width="1.3"/>
<line x1="185" y1="621.5" x2="185" y2="630" stroke="#222" stroke-width="1.3"/>
<line x1="181" y1="621.5" x2="189" y2="621.5" stroke="#222" stroke-width="1.3"/>
<line x1="181" y1="630" x2="189" y2="630" stroke="#222" stroke-width="1.3"/>
<line x1="213.1" y1="618.7" x2="213.1" y2="629.2" stroke="#222" stroke-width="1.3"/>
<line x1="208.6" y1="618.7" x2="217.6" y2="618.7" stroke="#222" stroke-width="1.3"/>
<line x1="208.6" y1="629.2" x2="217.6" y2="629.2" stroke="#222" stroke-width="1.3"/>
<line x1="241.2" y1="620" x2="241.2" y2="635.4" stroke="#222" stroke-width="1.3"/>
<line x1="236.7" y1="620" x2="245.7" y2="620" stroke="#222" stroke-width="1.3"/>
<line x1="236.7" y1="635.4" x2="245.7" y2="635.4" stroke="#222" stroke-width="1.3"/>
<circle cx="75.8" cy="626.3" r="2.75" fill="#8c8c8c"/>
<circle cx="82.9" cy="628.8" r="2.75" fill="#8c8c8c"/>
<circle cx="88.7" cy="626.9" r="2.75" fill="#8c8c8c"/>
<circle cx="82.9" cy="639.2" r="2.75" fill="#8c8c8c"/>
<circle cx="82.9" cy="645.6" r="2.75" fill="#8c8c8c"/>
<circle cx="82.9" cy="654.2" r="2.75" fill="#8c8c8c"/>
<circle cx="110.4" cy="626.9" r="2.75" fill="#000"/>
<circle cx="104" cy="634" r="2.75" fill="#000"/>
<circle cx="116.5" cy="633" r="2.75" fill="#000"/>
<circle cx="138.1" cy="626.3" r="2.75" fill="#000"/>
<circle cx="131.9" cy="630.2" r="2.75" fill="#000"/>
<circle cx="144.4" cy="629.2" r="2.75" fill="#000"/>
<circle cx="178.3" cy="621.5" r="2.75" fill="#8c8c8c"/>
<circle cx="184.6" cy="621.9" r="2.75" fill="#8c8c8c"/>
<circle cx="178.3" cy="630.2" r="2.75" fill="#8c8c8c"/>
<circle cx="191.7" cy="627.3" r="2.75" fill="#8c8c8c"/>
<circle cx="206.2" cy="620.6" r="2.75" fill="#000"/>
<circle cx="219.6" cy="621.2" r="2.75" fill="#000"/>
<circle cx="212.9" cy="623.8" r="2.75" fill="#000"/>
<circle cx="212.9" cy="632.1" r="2.75" fill="#000"/>
<circle cx="234" cy="622" r="2.75" fill="#000"/>
<circle cx="241.2" cy="625.4" r="2.75" fill="#000"/>
<circle cx="247.5" cy="625" r="2.75" fill="#000"/>
<circle cx="241.2" cy="639.2" r="2.75" fill="#000"/>
<line x1="63.7" y1="567.5" x2="63.7" y2="711.2" stroke="#000" stroke-width="1.7"/>
<line x1="58.7" y1="710.4" x2="63.7" y2="710.4" stroke="#000" stroke-width="1.5"/>
<text x="53.3" y="714.7" font-size="12" text-anchor="end" fill="#111" stroke="#111" stroke-width="0.3" font-weight="normal" >0</text>
<line x1="58.7" y1="664.13" x2="63.7" y2="664.13" stroke="#000" stroke-width="1.5"/>
<text x="53.3" y="668.43" font-size="12" text-anchor="end" fill="#111" stroke="#111" stroke-width="0.3" font-weight="normal" >50</text>
<line x1="58.7" y1="617.87" x2="63.7" y2="617.87" stroke="#000" stroke-width="1.5"/>
<text x="53.3" y="622.17" font-size="12" text-anchor="end" fill="#111" stroke="#111" stroke-width="0.3" font-weight="normal" >100</text>
<line x1="58.7" y1="571.6" x2="63.7" y2="571.6" stroke="#000" stroke-width="1.5"/>
<text x="53.3" y="575.9" font-size="12" text-anchor="end" fill="#111" stroke="#111" stroke-width="0.3" font-weight="normal" >150</text>
<line x1="62.85" y1="710.4" x2="260.1" y2="710.4" stroke="#000" stroke-width="1.7"/>
<line x1="82.6" y1="710.4" x2="82.6" y2="714.9" stroke="#000" stroke-width="1.5"/>
<line x1="110.6" y1="710.4" x2="110.6" y2="714.9" stroke="#000" stroke-width="1.5"/>
<line x1="138.5" y1="710.4" x2="138.5" y2="714.9" stroke="#000" stroke-width="1.5"/>
<line x1="185" y1="710.4" x2="185" y2="714.9" stroke="#000" stroke-width="1.5"/>
<line x1="213.1" y1="710.4" x2="213.1" y2="714.9" stroke="#000" stroke-width="1.5"/>
<line x1="241.2" y1="710.4" x2="241.2" y2="714.9" stroke="#000" stroke-width="1.5"/>
<text transform="translate(23.7,638.8) rotate(-90)" x="0" y="0" font-size="14" text-anchor="middle" fill="#111" stroke="#111" stroke-width="0.35" textLength="100.2" lengthAdjust="spacingAndGlyphs">SYK+ neutrophils (%)</text>
<text x="82.6" y="730.6" font-size="11.5" text-anchor="middle" fill="#111" stroke="#111" stroke-width="0.3" font-weight="normal" >BL</text>
<text x="110.6" y="730.6" font-size="11.5" text-anchor="middle" fill="#111" stroke="#111" stroke-width="0.3" font-weight="normal" >Veh</text>
<text x="138.5" y="730.6" font-size="11.5" text-anchor="middle" fill="#111" stroke="#111" stroke-width="0.3" font-weight="normal" >7D</text>
<text x="185" y="730.6" font-size="11.5" text-anchor="middle" fill="#111" stroke="#111" stroke-width="0.3" font-weight="normal" >BL</text>
<text x="213.1" y="730.6" font-size="11.5" text-anchor="middle" fill="#111" stroke="#111" stroke-width="0.3" font-weight="normal" >Veh</text>
<text x="241.2" y="730.6" font-size="11.5" text-anchor="middle" fill="#111" stroke="#111" stroke-width="0.3" font-weight="normal" >7D</text>
<text x="138.5" y="749" font-size="12.2" text-anchor="middle" fill="#111" stroke="#111" stroke-width="0.3" font-weight="normal" >2 g/kg</text>
<text x="110.6" y="767.8" font-size="12" text-anchor="middle" fill="#ab2446" stroke="#ab2446" stroke-width="0.12" font-weight="normal" >HbSS</text>
<text x="240.8" y="749" font-size="12.2" text-anchor="middle" fill="#111" stroke="#111" stroke-width="0.3" font-weight="normal" >2 g/kg</text>
<text x="212.9" y="767.8" font-size="12" text-anchor="middle" fill="#359dcc" stroke="#359dcc" stroke-width="0.12" font-weight="normal" >HbAA</text>
<text x="277" y="568.3" font-size="17.5" font-weight="bold" fill="#000" stroke="#000" stroke-width="0.6">D</text>
<rect x="350" y="633.5" width="14.6" height="80" fill="#c1c0de"/>
<rect x="373.9" y="627.7" width="14.6" height="85.8" fill="#c8102e"/>
<rect x="397.8" y="649.6" width="14.6" height="63.9" fill="#d53d5b"/>
<rect x="437.5" y="627.2" width="14.6" height="86.3" fill="#d1dac2"/>
<rect x="461.3" y="650.8" width="14.6" height="62.7" fill="#2ea4dc"/>
<rect x="485.2" y="674.8" width="14.6" height="38.7" fill="#57b8e6"/>
<line x1="357.3" y1="623.4" x2="357.3" y2="643.8" stroke="#33335a" stroke-width="1.3"/>
<line x1="353.3" y1="623.4" x2="361.3" y2="623.4" stroke="#33335a" stroke-width="1.3"/>
<line x1="353.3" y1="643.8" x2="361.3" y2="643.8" stroke="#33335a" stroke-width="1.3"/>
<line x1="381.2" y1="625" x2="381.2" y2="630" stroke="#222" stroke-width="1.3"/>
<line x1="377.7" y1="625" x2="384.7" y2="625" stroke="#222" stroke-width="1.3"/>
<line x1="377.7" y1="630" x2="384.7" y2="630" stroke="#222" stroke-width="1.3"/>
<line x1="405.1" y1="641.3" x2="405.1" y2="658" stroke="#222" stroke-width="1.3"/>
<line x1="401.1" y1="641.3" x2="409.1" y2="641.3" stroke="#222" stroke-width="1.3"/>
<line x1="401.1" y1="658" x2="409.1" y2="658" stroke="#222" stroke-width="1.3"/>
<line x1="444.8" y1="625" x2="444.8" y2="634" stroke="#222" stroke-width="1.3"/>
<line x1="441.3" y1="625" x2="448.3" y2="625" stroke="#222" stroke-width="1.3"/>
<line x1="441.3" y1="634" x2="448.3" y2="634" stroke="#222" stroke-width="1.3"/>
<line x1="468.6" y1="647" x2="468.6" y2="651" stroke="#222" stroke-width="1.3"/>
<line x1="465.1" y1="647" x2="472.1" y2="647" stroke="#222" stroke-width="1.3"/>
<line x1="465.1" y1="651" x2="472.1" y2="651" stroke="#222" stroke-width="1.3"/>
<line x1="492.5" y1="667" x2="492.5" y2="683.5" stroke="#222" stroke-width="1.3"/>
<line x1="488.5" y1="667" x2="496.5" y2="667" stroke="#222" stroke-width="1.3"/>
<line x1="488.5" y1="683.5" x2="496.5" y2="683.5" stroke="#222" stroke-width="1.3"/>
<circle cx="357" cy="619.5" r="2.75" fill="#8c8c8c"/>
<circle cx="357" cy="626.1" r="2.75" fill="#8c8c8c"/>
<circle cx="351.6" cy="633.4" r="2.75" fill="#8c8c8c"/>
<circle cx="362.8" cy="632.7" r="2.75" fill="#8c8c8c"/>
<circle cx="362.8" cy="643.3" r="2.75" fill="#8c8c8c"/>
<circle cx="351.9" cy="646.6" r="2.75" fill="#8c8c8c"/>
<circle cx="375.6" cy="625.1" r="2.75" fill="#000"/>
<circle cx="379.7" cy="626.1" r="2.75" fill="#000"/>
<circle cx="383.4" cy="627.3" r="2.75" fill="#000"/>
<circle cx="387.2" cy="627.3" r="2.75" fill="#000"/>
<circle cx="375.6" cy="630.1" r="2.75" fill="#000"/>
<circle cx="382.7" cy="630.6" r="2.75" fill="#000"/>
<circle cx="399.9" cy="639.3" r="2.75" fill="#000"/>
<circle cx="404.9" cy="642.2" r="2.75" fill="#000"/>
<circle cx="410.4" cy="642.6" r="2.75" fill="#000"/>
<circle cx="404.9" cy="652.9" r="2.75" fill="#000"/>
<circle cx="402.1" cy="658.7" r="2.75" fill="#000"/>
<circle cx="407.5" cy="658.7" r="2.75" fill="#000"/>
<circle cx="438.8" cy="626.3" r="2.75" fill="#8c8c8c"/>
<circle cx="443.2" cy="623.7" r="2.75" fill="#8c8c8c"/>
<circle cx="446.6" cy="625.5" r="2.75" fill="#8c8c8c"/>
<circle cx="450.6" cy="626" r="2.75" fill="#8c8c8c"/>
<circle cx="442.3" cy="637.1" r="2.75" fill="#8c8c8c"/>
<circle cx="445.4" cy="634.1" r="2.75" fill="#8c8c8c"/>
<circle cx="463.4" cy="650.2" r="2.75" fill="#000"/>
<circle cx="468.6" cy="645.7" r="2.75" fill="#000"/>
<circle cx="473.8" cy="647.5" r="2.75" fill="#000"/>
<circle cx="487" cy="666.2" r="2.75" fill="#000"/>
<circle cx="492.5" cy="668.2" r="2.75" fill="#000"/>
<circle cx="497.7" cy="670" r="2.75" fill="#000"/>
<circle cx="492.5" cy="673.9" r="2.75" fill="#000"/>
<circle cx="489.4" cy="683.5" r="2.75" fill="#000"/>
<circle cx="495.1" cy="683.5" r="2.75" fill="#000"/>
<line x1="342" y1="583" x2="342" y2="714.3" stroke="#000" stroke-width="1.7"/>
<line x1="337" y1="713.5" x2="342" y2="713.5" stroke="#000" stroke-width="1.5"/>
<text x="331.6" y="717.8" font-size="12" text-anchor="end" fill="#111" stroke="#111" stroke-width="0.3" font-weight="normal" >0</text>
<line x1="337" y1="671.27" x2="342" y2="671.27" stroke="#000" stroke-width="1.5"/>
<text x="331.6" y="675.57" font-size="12" text-anchor="end" fill="#111" stroke="#111" stroke-width="0.3" font-weight="normal" >500</text>
<line x1="337" y1="629.03" x2="342" y2="629.03" stroke="#000" stroke-width="1.5"/>
<text x="331.6" y="633.33" font-size="12" text-anchor="end" fill="#111" stroke="#111" stroke-width="0.3" font-weight="normal" >1000</text>
<line x1="337" y1="586.8" x2="342" y2="586.8" stroke="#000" stroke-width="1.5"/>
<text x="331.6" y="591.1" font-size="12" text-anchor="end" fill="#111" stroke="#111" stroke-width="0.3" font-weight="normal" >1500</text>
<line x1="341.15" y1="713.5" x2="509.5" y2="713.5" stroke="#000" stroke-width="1.7"/>
<line x1="357.3" y1="713.5" x2="357.3" y2="718" stroke="#000" stroke-width="1.5"/>
<line x1="381.2" y1="713.5" x2="381.2" y2="718" stroke="#000" stroke-width="1.5"/>
<line x1="405.1" y1="713.5" x2="405.1" y2="718" stroke="#000" stroke-width="1.5"/>
<line x1="444.8" y1="713.5" x2="444.8" y2="718" stroke="#000" stroke-width="1.5"/>
<line x1="468.6" y1="713.5" x2="468.6" y2="718" stroke="#000" stroke-width="1.5"/>
<line x1="492.5" y1="713.5" x2="492.5" y2="718" stroke="#000" stroke-width="1.5"/>
<text transform="translate(293.7,647.9) rotate(-90)" x="0" y="0" font-size="14" text-anchor="middle" fill="#111" stroke="#111" stroke-width="0.35" textLength="122" lengthAdjust="spacingAndGlyphs">p-SYK in neutrophils (MFI)</text>
<line x1="384.3" y1="600.5" x2="404.7" y2="600.5" stroke="#303030" stroke-width="1.25"/>
<polygon points="385.95,590.6 386.68,592.49 388.71,592.6 387.14,593.89 387.65,595.85 385.95,594.75 384.25,595.85 384.76,593.89 383.19,592.6 385.22,592.49" fill="#111"/>
<polygon points="391.45,590.6 392.18,592.49 394.21,592.6 392.64,593.89 393.15,595.85 391.45,594.75 389.75,595.85 390.26,593.89 388.69,592.6 390.72,592.49" fill="#111"/>
<polygon points="396.95,590.6 397.68,592.49 399.71,592.6 398.14,593.89 398.65,595.85 396.95,594.75 395.25,595.85 395.76,593.89 394.19,592.6 396.22,592.49" fill="#111"/>
<polygon points="402.45,590.6 403.18,592.49 405.21,592.6 403.64,593.89 404.15,595.85 402.45,594.75 400.75,595.85 401.26,593.89 399.69,592.6 401.72,592.49" fill="#111"/>
<line x1="468.3" y1="607.5" x2="492.2" y2="607.5" stroke="#303030" stroke-width="1.25"/>
<polygon points="472.15,596.9 472.88,598.79 474.91,598.9 473.34,600.19 473.85,602.15 472.15,601.05 470.45,602.15 470.96,600.19 469.39,598.9 471.42,598.79" fill="#111"/>
<polygon points="477.65,596.9 478.38,598.79 480.41,598.9 478.84,600.19 479.35,602.15 477.65,601.05 475.95,602.15 476.46,600.19 474.89,598.9 476.92,598.79" fill="#111"/>
<polygon points="483.15,596.9 483.88,598.79 485.91,598.9 484.34,600.19 484.85,602.15 483.15,601.05 481.45,602.15 481.96,600.19 480.39,598.9 482.42,598.79" fill="#111"/>
<polygon points="488.65,596.9 489.38,598.79 491.41,598.9 489.84,600.19 490.35,602.15 488.65,601.05 486.95,602.15 487.46,600.19 485.89,598.9 487.92,598.79" fill="#111"/>
<text x="357.3" y="734.2" font-size="11.5" text-anchor="middle" fill="#111" stroke="#111" stroke-width="0.3" font-weight="normal" >BL</text>
<text x="381.2" y="734.2" font-size="11.5" text-anchor="middle" fill="#111" stroke="#111" stroke-width="0.3" font-weight="normal" >Veh</text>
<text x="405.1" y="734.2" font-size="11.5" text-anchor="middle" fill="#111" stroke="#111" stroke-width="0.3" font-weight="normal" >7D</text>
<text x="444.8" y="734.2" font-size="11.5" text-anchor="middle" fill="#111" stroke="#111" stroke-width="0.3" font-weight="normal" >BL</text>
<text x="468.6" y="734.2" font-size="11.5" text-anchor="middle" fill="#111" stroke="#111" stroke-width="0.3" font-weight="normal" >Veh</text>
<text x="492.5" y="734.2" font-size="11.5" text-anchor="middle" fill="#111" stroke="#111" stroke-width="0.3" font-weight="normal" >7D</text>
<text x="405.5" y="753" font-size="12.2" text-anchor="middle" fill="#111" stroke="#111" stroke-width="0.3" font-weight="normal" >2 g/kg</text>
<text x="381.2" y="771.8" font-size="12" text-anchor="middle" fill="#ab2446" stroke="#ab2446" stroke-width="0.12" font-weight="normal" >HbSS</text>
<text x="492.6" y="753" font-size="12.2" text-anchor="middle" fill="#111" stroke="#111" stroke-width="0.3" font-weight="normal" >2 g/kg</text>
<text x="468" y="771.8" font-size="12" text-anchor="middle" fill="#359dcc" stroke="#359dcc" stroke-width="0.12" font-weight="normal" >HbAA</text>
<rect x="0.5" y="0.5" width="519" height="784" fill="none" stroke="#111" stroke-width="1"/>
</svg></div></body></html>
